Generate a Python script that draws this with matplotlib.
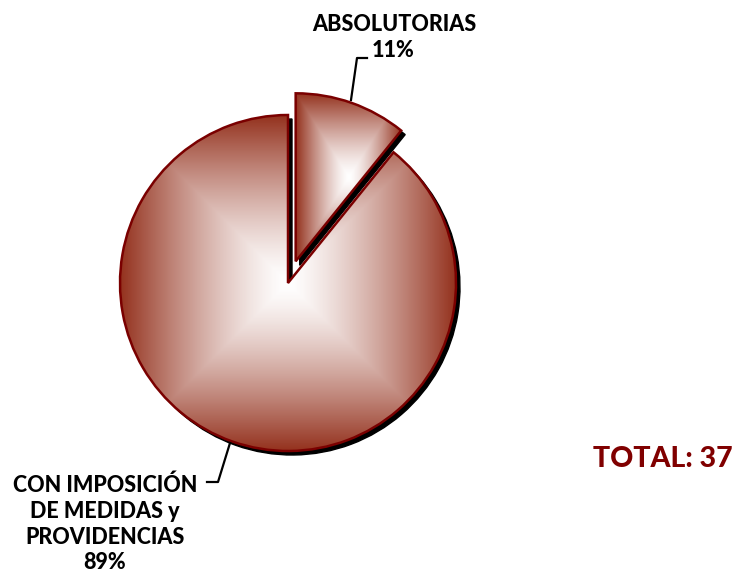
import numpy as np
import matplotlib
matplotlib.use("Agg")
import matplotlib.pyplot as plt
from matplotlib.patches import Wedge
from matplotlib import transforms
from matplotlib.colors import LinearSegmentedColormap

# ---- data ----
categories = ["ABSOLUTORIAS", "CON IMPOSICIÓN\nDE MEDIDAS y\nPROVIDENCIAS"]
counts = [4, 33]
total_label = "TOTAL: 37"

W, H = 738, 573
fig = plt.figure(figsize=(W / 100, H / 100), dpi=100)
ax = fig.add_axes([0, 0, 1, 1])

edge_rgb = np.array([148, 50, 30]) / 255.0
cmap = LinearSegmentedColormap.from_list("grad", [(1, 1, 1), tuple(edge_rgb)])

center = (288, 290)
radius = 168
wedges, _ = ax.pie(counts, explode=[23, 0], startangle=90, counterclock=False,
                   radius=radius, center=center, frame=True)

shadow_tr = transforms.offset_copy(ax.transData, fig=fig, x=4, y=-4, units='dots')

for w in wedges:
    # shadow
    sh = Wedge(w.center, w.r, w.theta1, w.theta2, facecolor='black',
               edgecolor='black', lw=1, transform=shadow_tr, zorder=1)
    ax.add_patch(sh)
    # gradient fill ("from center" rectangular)
    bb = w.get_path().get_extents()
    n = 300
    xs = np.linspace(-1, 1, n)
    X, Y = np.meshgrid(xs, xs)
    T = np.maximum(np.abs(X), np.abs(Y)) ** 1.35
    im = ax.imshow(T, cmap=cmap, vmin=0, vmax=1, origin='lower',
                   extent=[bb.x0, bb.x1, bb.y0, bb.y1], zorder=2,
                   interpolation='bilinear')
    im.set_clip_path(w)
    w.set_facecolor('none')
    w.set_edgecolor('#7A0000')
    w.set_linewidth(1.8)
    w.set_zorder(3)

ax.set_xlim(0, W)
ax.set_ylim(0, H)
ax.set_aspect('equal')
ax.axis('off')

pct = [round(100 * c / sum(counts)) for c in counts]
font = dict(family=['Lato', 'DejaVu Sans'], weight='black', color='black')

# top label
ax.text(394, H - 31, categories[0], ha='center', va='baseline', fontsize=15.5, **font)
ax.text(393, H - 57, f"{pct[0]}%", ha='center', va='baseline', fontsize=15.5, **font)
ax.plot([351, 357, 367], [H - 100, H - 58, H - 58], color='black', lw=1.6, zorder=4)

# bottom label
lines = categories[1].split("\n") + [f"{pct[1]}%"]
bases = [492, 518, 544, 569]
for t, b in zip(lines, bases):
    ax.text(105, H - b, t, ha='center', va='baseline', fontsize=15.5, **font)
ax.plot([230, 218, 207], [H - 443, H - 482, H - 482], color='black', lw=1.6, zorder=4)

ax.text(663, H - 467, total_label, ha='center', va='baseline', fontsize=20.5,
        family=['Lato', 'DejaVu Sans'], weight='black', color='#800000')

fig.savefig("out.png", dpi=100)
